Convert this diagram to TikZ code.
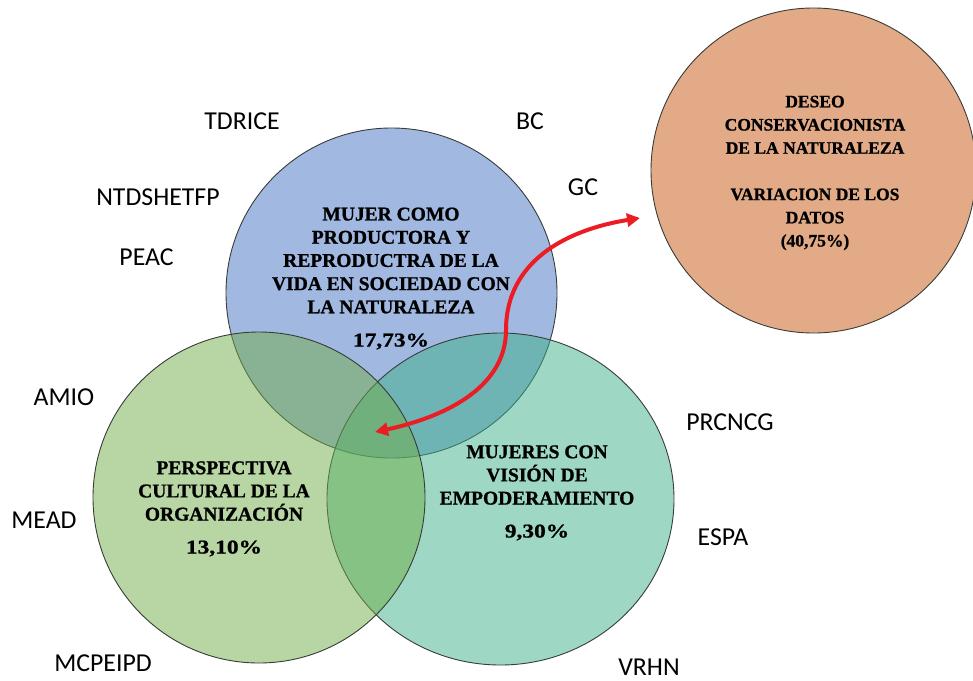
\documentclass[tikz,border=0pt]{standalone}
\usepackage{fontspec}
\setmainfont{Liberation Serif}
\newfontfamily\titlefont{Liberation Serif}[BoldFeatures={FakeBold=1}]
\newfontfamily\labfont{Carlito}
\usepackage{graphicx}
\usetikzlibrary{arrows.meta,shapes.geometric}
\definecolor{cblue}{HTML}{4472C4}
\definecolor{cgreen}{HTML}{70AD47}
\definecolor{cteal}{RGB}{62,178,138}
\definecolor{corange}{RGB}{226,170,135}
\definecolor{cred}{RGB}{236,28,36}
\definecolor{cline}{RGB}{55,60,55}
\begin{document}
\begin{tikzpicture}[x=1pt,y=-1pt,
  venn/.style={ellipse, draw=cline, line width=0.9pt, fill opacity=0.5, inner sep=0pt, outer sep=0pt},
  title/.style={font=\titlefont\bfseries\fontsize{19.5}{23.2}\selectfont, align=center, inner sep=0pt, text=black},
  pct/.style={font=\titlefont\bfseries\fontsize{19.5}{23.2}\selectfont, anchor=base, inner sep=0pt, text=black},
  lab/.style={font=\labfont\fontsize{25.8}{30}\selectfont, anchor=base, inner sep=0pt, text=black},
  link/.style={cred, line width=4pt, {Triangle[length=13pt,width=13pt]}-{Triangle[length=13pt,width=13pt]}}]
\useasboundingbox (0,0) rectangle (973,680);
% circles
\node[venn, fill=cblue, minimum width=331pt, minimum height=330pt] (cb) at (391.5,293) {};
\node[venn, fill=cteal, minimum width=347pt, minimum height=332pt] (ct) at (500.5,499) {};
\node[venn, fill=cgreen, minimum width=332pt, minimum height=331pt] (cg) at (259,497.5) {};
\node[venn, fill=corange, fill opacity=1, minimum width=325pt, minimum height=325pt] (co) at (813.5,170.5) {};
% titles
\node[title] (tb) at (391,260.5) {MUJER COMO\\PRODUCTORA Y\\REPRODUCTRA DE LA\\VIDA EN SOCIEDAD CON\\LA NATURALEZA};
\node[pct] (pb) at (391,346.5) {\scalebox{1.2}[1]{17,73\%}};
\node[title] (tg) at (224,491) {PERSPECTIVA\\CULTURAL DE LA\\ORGANIZACIÓN};
\node[pct] (pg) at (224,553.5) {\scalebox{1.2}[1]{13,10\%}};
\node[title] (tt) at (537,475) {MUJERES CON\\VISIÓN DE\\EMPODERAMIENTO};
\node[pct] (pt) at (537,537.5) {\scalebox{1.2}[1]{9,30\%}};
\node[title, font=\titlefont\bfseries\fontsize{17.5}{23.2}\selectfont] (to) at (815,173) {DESEO\\CONSERVACIONISTA\\DE LA NATURALEZA\\[23.2pt]VARIACION DE LOS\\DATOS\\(40,75\%)};
% outer labels
\node[lab] (l1) at (242,129.3) {TDRICE};
\node[lab] (l2) at (530,129.3) {BC};
\node[lab] (l3) at (583,195.3) {GC};
\node[lab] (l4) at (158,205.3) {NTDSHETFP};
\node[lab] (l5) at (146.5,265.3) {PEAC};
\node[lab] (l6) at (64,405.3) {AMIO};
\node[lab] (l7) at (44,528.3) {MEAD};
\node[lab] (l8) at (103,671.3) {MCPEIPD};
\node[lab] (l9) at (730,430.3) {PRCNCG};
\node[lab] (l10) at (723,545.3) {ESPA};
\node[lab] (l11) at (649,675.5) {VRHN};
% arrow
\coordinate (a1) at (375,432);
\coordinate (am) at (506,330);
\coordinate (a2) at (640,218);
\draw[link] (a1) .. controls (440,418) and (506,390) .. (am) .. controls (506,262) and (565,230) .. (a2);
\end{tikzpicture}
\end{document}
